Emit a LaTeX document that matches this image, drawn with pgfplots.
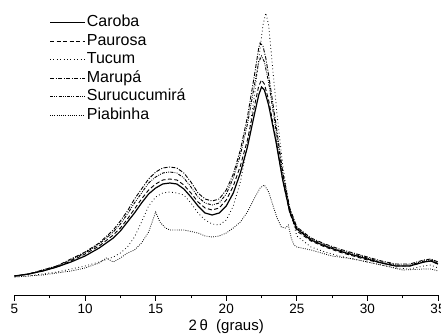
\documentclass[border=0pt]{standalone}
\usepackage{pgfplots}
\pgfplotsset{compat=1.18}
\usepackage{fontspec}
\setmainfont{Liberation Sans}
\begin{document}
\begin{tikzpicture}[x=1pt,y=1pt]
\begin{axis}[
  at={(14.5pt,39pt)}, anchor=south west,
  scale only axis, width=423.5pt, height=295pt,
  xmin=5, xmax=35, ymin=0, ymax=295,
  y filter/.expression={295-y},
  axis x line=bottom, axis y line=none,
  x axis line style={-, line width=0.8pt},
  xtick={5,10,...,35}, minor x tick num=1,
  xtick align=outside,
  major tick length=6pt, minor tick length=3.5pt,
  every tick/.style={line width=0.8pt, black},
  /pgf/number format/assume math mode=true,
  ticklabel style={font=\fontsize{13.5}{15}\selectfont},
  xlabel={2\,θ\ \ (graus)},
  xlabel style={font=\fontsize{15}{17}\selectfont, yshift=1.5pt},
  legend image code/.code={\draw[#1] (0pt,0pt) -- (35pt,0pt);},
  legend cell align=left,
  legend style={at={(0.075,0.962)}, anchor=north west, draw=none, fill=none,
    font=\fontsize{16}{18}\selectfont, row sep=0pt,
    nodes={inner sep=1.25pt, text height=12pt, text depth=4pt}},
  clip=false,
]
% Caroba
\addplot[black, line width=1.2pt] coordinates {
(5,276)(6,274)(7,271)(8,267)(9,262)(10,256)(11,248)(12,238)(12.5,231)(13,222)(13.5,213)(14,203)(14.5,194)(15,188)(15.5,184)(16,183)(16.5,184)(17,189)(17.5,197)(18,206)(18.5,213)(19,215)(19.5,213)(20,206)(20.5,193)(21,173)(21.5,147)(22,114)(22.3,95)(22.5,87)(22.7,90)(23,105)(23.5,140)(24,180)(24.5,212)(25,229)(26,240)(27,246)(28,251)(29,255)(30,259)(31,263)(32,266)(33,266)(34,262)(34.5,261)(35,264)};
% Paurosa
\addplot[black, line width=0.9pt, dash pattern=on 4pt off 2.5pt] coordinates {
(5,276)(6,274)(7,271)(8,267)(9,261)(10,254)(11,246)(12,235)(12.5,228)(13,219)(13.5,209)(14,199)(14.5,190)(15,184)(15.5,180)(16,179)(16.5,180)(17,185)(17.5,193)(18,202)(18.5,208)(19,210)(19.5,208)(20,200)(20.5,186)(21,166)(21.5,140)(22,106)(22.3,86)(22.5,80)(22.7,84)(23,100)(23.5,138)(24,180)(24.5,213)(25,231)(26,241)(27,247)(28,252)(29,256)(30,260)(31,263)(32,266)(33,266)(34,262)(34.5,261)(35,264)};
% Tucum
\addplot[black, line width=0.8pt, dash pattern=on 0.8pt off 2.6pt] coordinates {
(5,277)(6,276)(7,274)(8,272)(9,269)(10,266)(11,262)(12,257)(12.5,253)(13,247)(13.5,237)(14,222)(14.5,206)(15,197)(15.5,193)(16,192)(16.5,193)(17,195)(17.5,203)(18,213)(18.5,220)(19,224)(19.5,225)(20,220)(20.5,206)(21,182)(21.5,145)(22,95)(22.3,60)(22.6,25)(22.8,13)(23,25)(23.3,70)(23.6,115)(24,165)(24.5,210)(25,236)(26,247)(27,252)(28,256)(29,259)(30,262)(31,265)(32,268)(33,269)(34,266)(34.5,265)(35,268)};
% Marupa
\addplot[black, line width=0.9pt, dash pattern=on 4pt off 1.5pt on 1pt off 1.5pt] coordinates {
(5,276)(6,274)(7,270)(8,266)(9,259)(10,252)(11,243)(12,230)(12.5,221)(13,211)(13.5,199)(14,189)(14.5,179)(15,172)(15.5,168)(16,167)(16.5,168)(17,173)(17.5,182)(18,193)(18.5,199)(19,201)(19.5,199)(20,190)(20.5,174)(21,150)(21.5,117)(22,75)(22.3,48)(22.4,43)(22.6,46)(22.8,58)(23,75)(23.5,122)(24,172)(24.5,208)(25,227)(26,238)(27,244)(28,249)(29,253)(30,257)(31,261)(32,264)(33,264)(34,260)(34.5,259)(35,262)};
% Surucucumira
\addplot[black, line width=0.9pt, dash pattern=on 3pt off 1.3pt on 0.8pt off 1.3pt on 0.8pt off 1.3pt] coordinates {
(5,276)(6,274)(7,270)(8,266)(9,260)(10,253)(11,244)(12,232)(12.5,224)(13,214)(13.5,203)(14,193)(14.5,183)(15,177)(15.5,173)(16,172)(16.5,173)(17,178)(17.5,187)(18,197)(18.5,203)(19,205)(19.5,203)(20,194)(20.5,178)(21,155)(21.5,124)(22,85)(22.3,62)(22.5,56)(22.7,62)(23,82)(23.5,128)(24,175)(24.5,210)(25,228)(26,239)(27,245)(28,250)(29,254)(30,258)(31,262)(32,265)(33,265)(34,261)(34.5,260)(35,263)};
% Piabinha
\addplot[black, line width=0.8pt, dash pattern=on 0.8pt off 1.4pt] coordinates {
(5,277)(6,276)(7,275)(7.5,274)(8,273)(9,271)(10,268)(11,263)(11.5,258)(12,262)(12.5,258)(13,253)(13.5,250)(14,243)(14.5,232)(14.8,220)(15,212)(15.3,222)(15.7,228)(16,230)(17,230)(18,233)(18.5,236)(19,237)(19.5,236)(20,233)(20.5,228)(21,222)(21.5,212)(22,198)(22.4,188)(22.7,185)(23,192)(23.3,205)(23.6,218)(23.9,227)(24.2,228)(24.4,225)(24.6,238)(24.8,245)(25,247)(26,250)(27.5,256)(29,259)(30,262)(31,265)(32.5,270)(34,269)(34.5,269)(35,271)};
\legend{Caroba,Paurosa,Tucum,Marupá,Surucucumirá,Piabinha}
\end{axis}
\pgfresetboundingbox
\path[use as bounding box] (0,0) rectangle (441pt,334pt);
\end{tikzpicture}
\end{document}
